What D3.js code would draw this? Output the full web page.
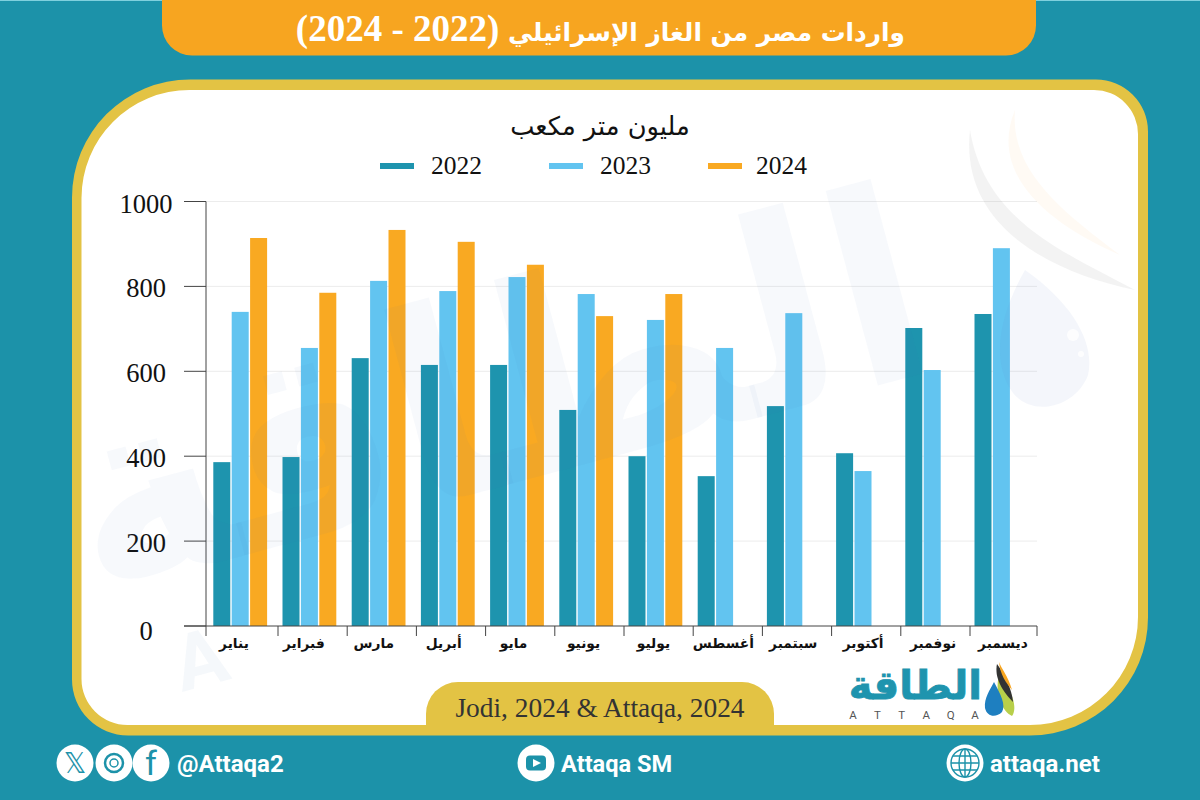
<!DOCTYPE html>
<html lang="ar"><head><meta charset="utf-8">
<script src="https://cdn.jsdelivr.net/npm/d3@7/dist/d3.min.js"></script>
<style>html,body{margin:0;padding:0;background:#1c92a9}svg{display:block}</style></head>
<body><svg id="c" width="1200" height="800"></svg>
<script>
const months=["يناير","فبراير","مارس","أبريل","مايو","يونيو","يوليو","أغسطس","سبتمبر","أكتوبر","نوفمبر","ديسمبر"];
const years=["2022","2023","2024"];
const values2022=[386,398,631,615,615,509,400,353,518,407,702,735];
const values2023=[740,655,813,789,822,782,721,655,737,365,603,890];
const values2024=[914,785,933,905,851,730,782,null,null,null,null,null];
const yTicks=[0,200,400,600,800,1000];
const titleArabic="واردات مصر من الغاز الإسرائيلي ";
const titleYears="(2022 - 2024)";
const unitText="مليون متر مكعب";
const sourceText="Jodi, 2024 & Attaqa, 2024";
const seriesColors=["#1e94ae","#62c4f0","#f9a922"];

const AR="'DejaVu Sans',sans-serif", SERIF="'Liberation Serif',serif", SANS="Roboto,sans-serif";
const svg=d3.select("#c");
svg.append("rect").attr("width",1200).attr("height",800).attr("fill","#1c92a9");
svg.append("rect").attr("width",1200).attr("height",1).attr("fill","#7fd0de");

function roundedPath(x0,y0,x1,y1,tl,tr,br,bl){
  const p=d3.path();
  p.moveTo(x0+tl,y0);p.lineTo(x1-tr,y0);
  if(tr)p.arcTo(x1,y0,x1,y0+tr,tr);
  p.lineTo(x1,y1-br);if(br)p.arcTo(x1,y1,x1-br,y1,br);
  p.lineTo(x0+bl,y1);if(bl)p.arcTo(x0,y1,x0,y1-bl,bl);
  p.lineTo(x0,y0+tl);if(tl)p.arcTo(x0,y0,x0+tl,y0,tl);
  p.closePath();return p.toString();
}
// Title banner
svg.append("path").attr("d",roundedPath(162,0,1036,55.5,0,0,30,30)).attr("fill","#f7a520");
const tt=svg.append("text").attr("x",905).attr("y",41).attr("text-anchor","start").attr("direction","rtl")
  .attr("font-weight","bold").attr("fill","#fff");
tt.append("tspan").attr("font-family",AR).attr("font-size",24.8).text(titleArabic);
tt.append("tspan").attr("font-family",SERIF).attr("font-size",37).text(titleYears);
// Frame
svg.append("path").attr("d",roundedPath(72,79.5,1148,735.5,118,52,118,56)).attr("fill","#e3c344");
svg.append("path").attr("d",roundedPath(81.5,90,1138,725,108,44,108,46)).attr("fill","#fff");

// Chart
const x=d3.scaleBand().domain(months).range([208.8,208.8+12*69.2]);
const xSeries=d3.scaleBand().domain(years).range([4.5,4.5+3*18.4]);
const labelX=d3.scalePoint().domain(months).range([234,1003]);
const y=d3.scaleLinear().domain([0,1000]).range([626,201.5]);
const barW=17;
const g=svg.append("g");
g.selectAll("line.grid").data(yTicks.slice(1)).join("line").attr("class","grid")
  .attr("x1",206).attr("x2",1037).attr("y1",d=>y(d)).attr("y2",d=>y(d)).attr("stroke","#ececec").attr("stroke-width",1);
[values2022,values2023,values2024].forEach((vals,si)=>{
  g.append("g").selectAll("rect").data(months.map((m,i)=>({m,v:vals[i]})).filter(d=>d.v!=null)).join("rect")
   .attr("x",d=>x(d.m)+xSeries(years[si])).attr("width",barW)
   .attr("y",d=>y(d.v)).attr("height",d=>y(0)-y(d.v)).attr("fill",seriesColors[si]);
});
// y axis
const axisColor="#444";
g.append("line").attr("x1",206).attr("x2",206).attr("y1",201.5).attr("y2",636).attr("stroke",axisColor);
g.selectAll("line.yt").data(yTicks).join("line").attr("class","yt")
  .attr("x1",184).attr("x2",206).attr("y1",d=>y(d)).attr("y2",d=>y(d)).attr("stroke",axisColor);
g.selectAll("text.yl").data(yTicks).join("text").attr("class","yl")
  .attr("x",146).attr("y",d=>y(d)+(d===0?14:11)).attr("text-anchor","middle")
  .attr("font-family",SERIF).attr("font-size",26.5).attr("fill","#111").text(d=>d);
// x axis
g.append("line").attr("x1",184).attr("x2",1037).attr("y1",y(0)).attr("y2",y(0)).attr("stroke",axisColor);
g.selectAll("line.xt").data(months.slice(1)).join("line").attr("class","xt")
  .attr("x1",d=>x(d)).attr("x2",d=>x(d)).attr("y1",y(0)).attr("y2",636).attr("stroke",axisColor);
g.append("line").attr("x1",1037).attr("x2",1037).attr("y1",y(0)).attr("y2",636).attr("stroke",axisColor);
g.selectAll("text.xl").data(months).join("text").attr("class","xl")
  .attr("x",d=>labelX(d)).attr("y",648).attr("text-anchor","middle").attr("direction","rtl")
  .attr("font-family",AR).attr("font-weight","bold").attr("font-size",13.8).attr("fill","#111").text(d=>d);
// subtitle + legend
svg.append("text").attr("x",600).attr("y",135).attr("text-anchor","middle").attr("direction","rtl")
  .attr("font-family",AR).attr("font-size",25.7).attr("fill","#111").text(unitText);
const legendX=d3.scaleOrdinal().domain(years).range([380,549,708]);
const lg=svg.append("g").selectAll("g").data(years).join("g");
lg.append("rect").attr("x",d=>legendX(d)).attr("y",163).attr("width",34).attr("height",6).attr("fill",(d,i)=>seriesColors[i]);
lg.append("text").attr("x",d=>legendX(d)+(d==="2024"?48:51)).attr("y",174)
  .attr("font-family",SERIF).attr("font-size",25.5).attr("fill","#111").text(d=>d);

// Watermark
const wm=svg.append("g").attr("pointer-events","none");
wm.append("text").attr("transform","translate(518,482) rotate(-15)").attr("text-anchor","middle").attr("direction","rtl")
  .attr("font-family",AR).attr("font-weight","bold").attr("font-size",265).attr("fill","#3f7fb0").attr("fill-opacity",.045).text("الطاقة");
wm.append("text").attr("transform","translate(182,692) rotate(-15)")
  .attr("font-family",SANS).attr("font-weight","bold").attr("font-size",78).attr("fill","#3f7fb0").attr("fill-opacity",.05).text("A");
wm.append("path").attr("d","M970,130 C960,220 1040,270 1135,290 C1060,250 985,220 970,130Z").attr("fill","#888").attr("fill-opacity",.1);
wm.append("path").attr("d","M1015,110 C990,170 1040,220 1120,255 C1060,210 1010,170 1015,110Z").attr("fill","#f7a520").attr("fill-opacity",.05);
wm.append("path").attr("d","M1025,270 C1075,305 1095,345 1088,375 C1075,410 1025,420 1008,385 C990,350 1005,305 1025,270Z").attr("fill","#6a7fc0").attr("fill-opacity",.07);
wm.append("circle").attr("cx",1073).attr("cy",335).attr("r",6).attr("fill","#fff").attr("fill-opacity",.8);
wm.append("circle").attr("cx",1081).attr("cy",354).attr("r",3).attr("fill","#fff").attr("fill-opacity",.8);

// Source tab
svg.append("path").attr("d",roundedPath(426,682,774,726,32,32,0,0)).attr("fill","#e3c344");
svg.append("text").attr("x",600).attr("y",717).attr("text-anchor","middle")
  .attr("font-family",SERIF).attr("font-size",27.4).attr("fill","#333").text(sourceText);

// Logo
svg.append("text").attr("x",982).attr("y",699).attr("text-anchor","start").attr("direction","rtl")
  .attr("font-family",AR).attr("font-weight","bold").attr("font-size",40).attr("fill","#1e94ae").attr("stroke","#1e94ae").attr("stroke-width",.8).text("الطاقة");
const logoLetters="ATTAQA".split("");
const logoX=d3.scalePoint().domain(d3.range(6)).range([853,975]);
svg.append("g").selectAll("text").data(logoLetters).join("text").attr("x",(d,i)=>logoX(i)).attr("y",719).attr("text-anchor","middle")
  .attr("font-family",SANS).attr("font-size",11.5).attr("fill","#555").text(d=>d);
svg.append("path").attr("d","M999,675 C1012,690 1018,708 1012,716 C1003,712 994,695 999,675Z").attr("fill","#b8cf4a");
svg.append("path").attr("d","M997,664 C1005,675 1012,690 1013,702 C1003,692 994,678 997,664Z").attr("fill","#333");
svg.append("path").attr("d","M999,662 C1001,668 1008,676 1012,690 C1006,683 1000,674 999,662Z").attr("fill","#f7a520");
svg.append("path").attr("d","M994,682 C1001,695 1006,705 1002,712 C996,718 987,717 985,708 C984,698 990,690 994,682Z").attr("fill","#1e7fc0");

// Footer
const white="#fff", bg="#1c92a9";
const iconXs=[75,114,151,536,965];
svg.append("g").selectAll("circle").data(iconXs).join("circle").attr("cx",d=>d).attr("cy",763).attr("r",18.5).attr("fill",white);
svg.append("text").attr("x",75).attr("y",773).attr("text-anchor","middle").attr("font-family",AR).attr("font-size",28).attr("fill",bg).text("𝕏");
svg.append("circle").attr("cx",114).attr("cy",763).attr("r",9).attr("fill","none").attr("stroke",bg).attr("stroke-width",2.5);
svg.append("circle").attr("cx",114).attr("cy",763).attr("r",4).attr("fill","none").attr("stroke",bg).attr("stroke-width",1.5);
svg.append("text").attr("x",151).attr("y",775).attr("text-anchor","middle").attr("font-family",SANS).attr("font-size",34).attr("fill",bg).text("f");
svg.append("rect").attr("x",526).attr("y",755.5).attr("width",20).attr("height",15).attr("rx",4).attr("fill",bg);
svg.append("path").attr("d","M533,759 L541,763 L533,767Z").attr("fill",white);
const globe=svg.append("g").attr("fill","none").attr("stroke",bg).attr("stroke-width",1.4);
globe.append("circle").attr("cx",965).attr("cy",763).attr("r",14);
globe.append("ellipse").attr("cx",965).attr("cy",763).attr("rx",6).attr("ry",14);
globe.append("path").attr("d","M951,763H979M953,756H977M953,770H977M965,749V777");
svg.append("text").attr("x",177).attr("y",772).attr("font-family",SANS).attr("font-weight","bold").attr("font-size",24).attr("fill",white).text("@Attaqa2");
svg.append("text").attr("x",561).attr("y",772).attr("font-family",SANS).attr("font-weight","bold").attr("font-size",23.6).attr("fill",white).text("Attaqa SM");
svg.append("text").attr("x",990).attr("y",772).attr("font-family",SANS).attr("font-weight","bold").attr("font-size",24).attr("fill",white).text("attaqa.net");
</script></body></html>
